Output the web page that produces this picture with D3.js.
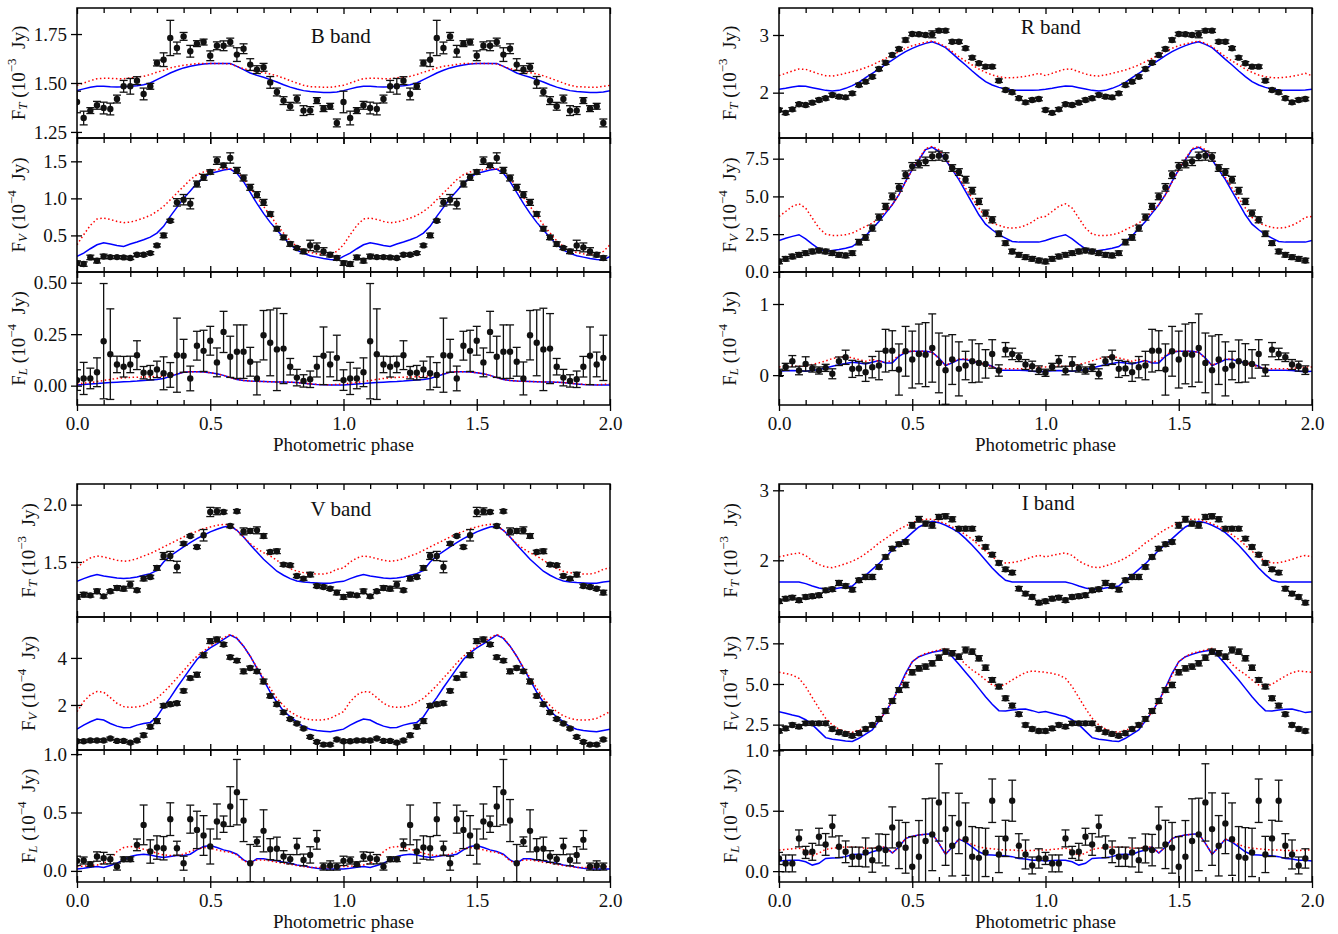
<!DOCTYPE html>
<html>
<head>
<meta charset="utf-8">
<script src="https://cdn.jsdelivr.net/npm/d3@7"></script>
<style>
  body { margin: 0; background: white; }
  svg text { font-family: "Liberation Serif", "Times New Roman", serif; fill: #111; }
</style>
</head>
<body>
<div id="chart"></div>
<script>
// phase grid of one cycle, the plot shows it twice (0-1 and 1-2)
const PHASES = [0, 0.025, 0.05, 0.075, 0.1, 0.125, 0.15, 0.175, 0.2, 0.225, 0.25, 0.275, 0.3, 0.325, 0.35, 0.375, 0.4, 0.425, 0.45, 0.475,
  0.5, 0.525, 0.55, 0.575, 0.6, 0.625, 0.65, 0.675, 0.7, 0.725, 0.75, 0.775, 0.8, 0.825, 0.85, 0.875, 0.9, 0.925, 0.95, 0.975];
const CYCLES = [0, 1];
const MAJOR_TICKS = [0, 0.5, 1, 1.5, 2];
const MINOR_TICKS = [0.1, 0.2, 0.3, 0.4, 0.6, 0.7, 0.8, 0.9, 1.1, 1.2, 1.3, 1.4, 1.6, 1.7, 1.8, 1.9];

// ---- B band
const B_FT = [1.403,1.321,1.359,1.386,1.372,1.367,1.418,1.483,1.483,1.512,1.444,1.483,1.602,1.619,1.730,1.679,1.738,1.662,1.701,1.709,
  1.639,1.690,1.690,1.709,1.645,1.675,1.594,1.568,1.580,1.503,1.454,1.410,1.381,1.418,1.359,1.359,1.410,1.369,1.381,1.296];
const B_FT_ERR = [0.055,0.035,0.015,0.02,0.03,0.03,0.02,0.03,0.04,0.02,0.03,0.015,0.015,0.035,0.09,0.03,0.02,0.03,0.015,0.015,
  0.025,0.02,0.025,0.02,0.035,0.025,0.03,0.02,0.02,0.03,0.02,0.02,0.02,0.02,0.025,0.02,0.015,0.015,0.015,0.02];
const B_FT_BLUE = [1.461,1.470,1.478,1.483,1.483,1.481,1.480,1.481,1.483,1.486,1.491,1.500,1.517,1.534,1.551,1.565,1.577,1.585,1.592,1.597,
  1.600,1.600,1.600,1.600,1.585,1.568,1.551,1.539,1.529,1.517,1.505,1.491,1.479,1.469,1.461,1.456,1.454,1.452,1.452,1.454];
const B_FT_RED = [1.488,1.500,1.512,1.522,1.524,1.524,1.522,1.522,1.526,1.531,1.534,1.543,1.555,1.565,1.577,1.585,1.590,1.595,1.599,1.600,
  1.600,1.599,1.599,1.597,1.585,1.573,1.565,1.560,1.553,1.546,1.537,1.525,1.512,1.500,1.488,1.481,1.480,1.478,1.478,1.483];

const B_FV = [0.126,0.113,0.203,0.158,0.216,0.207,0.207,0.203,0.194,0.239,0.239,0.261,0.365,0.5,0.698,0.946,0.982,0.928,1.194,1.284,
  1.356,1.509,1.446,1.545,1.378,1.275,1.149,1.05,0.946,0.788,0.59,0.473,0.383,0.329,0.284,0.365,0.338,0.284,0.239,0.194];
const B_FV_ERR = [0.03,0.03,0.03,0.03,0.03,0.02,0.02,0.02,0.02,0.02,0.02,0.02,0.02,0.03,0.02,0.05,0.07,0.07,0.04,0.04,
  0.03,0.05,0.03,0.07,0.04,0.04,0.04,0.04,0.04,0.03,0.03,0.03,0.03,0.02,0.03,0.07,0.06,0.05,0.03,0.03];
const B_FV_BLUE = [0.216,0.261,0.32,0.374,0.401,0.383,0.365,0.351,0.383,0.41,0.441,0.477,0.531,0.622,0.757,0.878,1.0,1.099,1.203,1.279,
  1.338,1.36,1.383,1.396,1.338,1.225,1.081,0.932,0.797,0.676,0.572,0.473,0.378,0.302,0.257,0.225,0.207,0.189,0.176,0.167];
const B_FV_RED = [0.374,0.509,0.635,0.721,0.734,0.716,0.689,0.671,0.68,0.703,0.734,0.77,0.824,0.892,0.982,1.072,1.162,1.252,1.32,1.356,
  1.378,1.387,1.401,1.401,1.365,1.275,1.14,1.014,0.892,0.77,0.644,0.532,0.428,0.351,0.297,0.27,0.252,0.243,0.248,0.284];

const B_FL = [0.027,0.035,0.035,0.065,0.216,0.153,0.103,0.092,0.103,0.148,0.063,0.063,0.079,0.06,0.052,0.148,0.145,0.035,0.194,0.169,
  0.218,0.113,0.261,0.14,0.165,0.165,0.116,0.035,0.245,0.208,0.176,0.18,0.092,0.039,0.023,0.031,0.092,0.145,0.103,0.135];
const B_FL_ERR = [0.05,0.078,0.05,0.07,0.28,0.22,0.04,0.05,0.04,0.07,0.03,0.035,0.04,0.08,0.06,0.18,0.08,0.06,0.07,0.1,
  0.07,0.07,0.1,0.1,0.13,0.13,0.07,0.08,0.12,0.16,0.2,0.17,0.04,0.04,0.03,0.04,0.05,0.14,0.06,0.11];
const B_FL_BLUE = [0.003,0.005,0.008,0.01,0.013,0.015,0.017,0.019,0.02,0.022,0.025,0.028,0.03,0.035,0.045,0.055,0.065,0.068,0.068,0.066,
  0.063,0.058,0.05,0.04,0.03,0.025,0.022,0.021,0.02,0.019,0.018,0.018,0.017,0.015,0.012,0.008,0.005,0.004,0.003,0.003];
const B_FL_RED = [0.008,0.012,0.015,0.02,0.025,0.03,0.035,0.038,0.04,0.041,0.042,0.043,0.045,0.047,0.05,0.058,0.066,0.068,0.068,0.066,
  0.063,0.058,0.05,0.04,0.03,0.025,0.022,0.021,0.02,0.019,0.018,0.018,0.017,0.015,0.012,0.009,0.006,0.005,0.004,0.006];

// ---- R band
const R_FT = [1.70,1.65,1.711,1.798,1.786,1.827,1.873,1.902,1.96,1.931,1.919,1.988,2.133,2.191,2.277,2.41,2.52,2.653,2.757,2.913,
  3.017,3.012,3.0,3.012,3.075,3.075,2.884,2.884,2.769,2.607,2.509,2.451,2.451,2.208,2.046,2.006,1.902,1.832,1.873,1.89];
const R_FT_ERR = [0.03,0.03,0.03,0.03,0.03,0.03,0.03,0.03,0.03,0.03,0.03,0.03,0.03,0.03,0.03,0.03,0.03,0.03,0.03,0.035,
  0.03,0.03,0.03,0.06,0.03,0.03,0.03,0.03,0.03,0.03,0.03,0.03,0.03,0.03,0.03,0.03,0.03,0.03,0.03,0.03];
const R_FT_BLUE = [2.058,2.075,2.098,2.116,2.11,2.087,2.064,2.04,2.029,2.04,2.075,2.121,2.179,2.26,2.335,2.41,2.491,2.566,2.642,2.711,
  2.769,2.815,2.855,2.884,2.838,2.78,2.682,2.578,2.48,2.376,2.277,2.191,2.133,2.092,2.064,2.046,2.04,2.04,2.04,2.046];
const R_FT_RED = [2.295,2.335,2.376,2.41,2.405,2.364,2.324,2.295,2.289,2.306,2.335,2.364,2.393,2.434,2.48,2.538,2.595,2.653,2.711,2.769,
  2.815,2.844,2.873,2.896,2.855,2.798,2.711,2.624,2.549,2.48,2.41,2.353,2.306,2.277,2.26,2.26,2.266,2.283,2.306,2.335];

const R_FV = [0.686,0.863,1.018,1.128,1.239,1.35,1.416,1.35,1.239,1.128,1.084,1.239,1.969,2.279,2.898,3.628,4.336,5.0,5.597,6.438,
  6.991,7.146,7.323,7.655,7.7,7.611,6.88,6.615,6.106,5.376,4.668,3.894,3.451,2.522,1.903,1.35,1.128,0.973,0.863,0.752];
const R_FV_ERR = [0.15,0.15,0.15,0.15,0.15,0.15,0.15,0.15,0.15,0.15,0.15,0.15,0.18,0.18,0.2,0.2,0.2,0.22,0.25,0.25,
  0.25,0.25,0.28,0.28,0.3,0.28,0.22,0.22,0.22,0.22,0.2,0.2,0.2,0.18,0.15,0.15,0.15,0.15,0.15,0.15];
const R_FV_BLUE = [2.08,2.23,2.35,2.46,2.19,1.84,1.53,1.35,1.42,1.48,1.57,1.68,2.01,2.39,2.85,3.34,3.89,4.45,5.11,6.0,
  6.77,7.43,8.1,8.25,7.99,7.43,6.77,6.11,5.33,4.56,3.78,3.16,2.79,2.46,2.23,2.01,1.97,1.97,1.97,1.97];
const R_FV_RED = [3.67,4.0,4.34,4.51,4.23,3.56,2.9,2.5,2.41,2.41,2.46,2.57,2.79,3.01,3.23,3.56,4.0,4.45,5.11,5.95,
  6.77,7.5,8.16,8.32,8.1,7.54,6.88,6.26,5.55,4.89,4.23,3.61,3.23,3.08,2.94,2.9,2.94,3.08,3.3,3.61];

const R_FL = [0.033,0.116,0.195,0.065,0.158,0.093,0.065,0.102,0.019,0.195,0.251,0.088,0.093,0.042,0.112,0.135,0.344,0.344,0.079,0.335,
  0.219,0.298,0.288,0.381,0.172,0.07,0.219,0.088,0.135,0.195,0.172,0.158,0.298,0.065,0.358,0.298,0.251,0.149,0.126,0.07];
const R_FL_ERR = [0.05,0.05,0.08,0.06,0.1,0.05,0.05,0.05,0.07,0.06,0.1,0.12,0.1,0.13,0.15,0.2,0.3,0.28,0.36,0.35,
  0.4,0.42,0.45,0.48,0.42,0.48,0.35,0.38,0.2,0.3,0.27,0.2,0.2,0.08,0.1,0.08,0.06,0.07,0.07,0.06];
const R_FL_BLUE = [0.056,0.06,0.065,0.06,0.056,0.065,0.079,0.1,0.126,0.145,0.163,0.181,0.172,0.158,0.181,0.205,0.172,0.172,0.265,0.321,
  0.335,0.335,0.335,0.321,0.242,0.135,0.172,0.219,0.219,0.195,0.172,0.158,0.126,0.07,0.07,0.07,0.07,0.065,0.056,0.047];
const R_FL_RED = [0.116,0.12,0.126,0.126,0.126,0.15,0.172,0.2,0.233,0.25,0.265,0.242,0.219,0.195,0.219,0.195,0.181,0.205,0.279,0.335,
  0.335,0.335,0.335,0.321,0.233,0.135,0.186,0.228,0.228,0.205,0.172,0.149,0.112,0.093,0.088,0.088,0.088,0.093,0.102,0.112];

// ---- V band
const V_FT = [1.195,1.215,1.209,1.244,1.2,1.244,1.273,1.267,1.302,1.253,1.355,1.369,1.448,1.552,1.552,1.456,1.66,1.727,1.631,1.733,
  1.936,1.942,1.936,1.814,1.942,1.767,1.77,1.776,1.727,1.587,1.593,1.477,1.471,1.378,1.355,1.39,1.291,1.282,1.267,1.233];
const V_FT_ERR = [0.02,0.02,0.015,0.02,0.015,0.015,0.02,0.02,0.03,0.015,0.02,0.015,0.02,0.03,0.04,0.05,0.015,0.01,0.015,0.05,
  0.04,0.03,0.015,0.015,0.015,0.03,0.02,0.03,0.02,0.015,0.02,0.015,0.015,0.015,0.015,0.02,0.015,0.015,0.015,0.02];
const V_FT_BLUE = [1.331,1.355,1.375,1.39,1.378,1.369,1.36,1.355,1.36,1.369,1.384,1.398,1.427,1.5,1.552,1.593,1.631,1.669,1.703,1.733,
  1.762,1.785,1.805,1.814,1.776,1.718,1.651,1.587,1.523,1.471,1.419,1.384,1.355,1.334,1.326,1.32,1.317,1.314,1.314,1.326];
const V_FT_RED = [1.448,1.5,1.535,1.552,1.544,1.529,1.515,1.506,1.512,1.529,1.552,1.573,1.602,1.631,1.66,1.689,1.718,1.747,1.767,1.791,
  1.805,1.820,1.828,1.820,1.776,1.718,1.66,1.616,1.581,1.552,1.515,1.477,1.442,1.419,1.407,1.398,1.395,1.395,1.407,1.436];

const V_FV = [0.457,0.457,0.486,0.486,0.486,0.571,0.471,0.471,0.4,0.486,0.714,1.071,1.314,1.971,2.029,2.071,2.6,3.143,3.286,4.114,
  4.714,4.786,4.571,4.029,3.886,3.429,3.571,3.429,3.0,2.386,2.029,1.686,1.4,1.214,1.0,0.643,0.429,0.314,0.314,0.529];
const V_FV_ERR = [0.06,0.06,0.06,0.06,0.06,0.06,0.06,0.06,0.06,0.06,0.08,0.08,0.1,0.08,0.08,0.08,0.08,0.08,0.1,0.1,
  0.1,0.1,0.08,0.08,0.08,0.1,0.08,0.08,0.1,0.08,0.08,0.08,0.06,0.06,0.06,0.06,0.06,0.06,0.06,0.06];
const V_FV_BLUE = [0.971,1.143,1.286,1.4,1.357,1.214,1.1,1.029,1.043,1.143,1.214,1.257,1.5,1.929,2.314,2.743,3.143,3.543,3.929,4.214,
  4.429,4.6,4.786,4.971,4.829,4.5,4.071,3.571,3.071,2.543,2.114,1.743,1.5,1.286,1.071,0.971,0.914,0.886,0.857,0.914];
const V_FV_RED = [1.714,2.143,2.43,2.571,2.543,2.314,2.071,1.929,1.9,1.914,1.971,2.114,2.286,2.543,2.829,3.143,3.457,3.786,4.071,4.286,
  4.5,4.686,4.857,5.0,4.857,4.5,4.071,3.6,3.143,2.714,2.286,1.971,1.714,1.543,1.429,1.371,1.357,1.371,1.429,1.571];

const V_FL = [0.086,0.089,0.057,0.123,0.109,0.1,0.037,0.1,0.1,0.223,0.394,0.166,0.2,0.194,0.443,0.194,0.066,0.443,0.351,0.303,
  0.209,0.423,0.4,0.551,0.674,0.431,0.066,0.251,0.343,0.186,0.189,0.123,0.1,0.209,0.094,0.137,0.266,0.037,0.046,0.037];
const V_FL_ERR = [0.04,0.03,0.02,0.04,0.05,0.04,0.03,0.02,0.02,0.05,0.17,0.1,0.1,0.1,0.14,0.06,0.06,0.12,0.16,0.17,
  0.15,0.15,0.07,0.17,0.28,0.18,0.16,0.04,0.18,0.09,0.1,0.05,0.04,0.07,0.05,0.07,0.08,0.03,0.04,0.03];
const V_FL_BLUE = [0.017,0.023,0.031,0.037,0.029,0.046,0.066,0.094,0.123,0.137,0.143,0.137,0.123,0.114,0.123,0.131,0.131,0.143,0.18,0.209,
  0.217,0.2,0.18,0.166,0.143,0.094,0.066,0.103,0.103,0.094,0.086,0.074,0.066,0.051,0.043,0.031,0.023,0.017,0.017,0.017];
const V_FL_RED = [0.037,0.04,0.046,0.05,0.066,0.094,0.166,0.2,0.209,0.2,0.186,0.171,0.151,0.137,0.131,0.131,0.143,0.166,0.189,0.2,
  0.194,0.18,0.166,0.16,0.137,0.086,0.066,0.094,0.094,0.086,0.074,0.066,0.057,0.046,0.037,0.029,0.029,0.029,0.029,0.034];

// ---- I band
const I_FT = [1.414,1.452,1.467,1.429,1.476,1.486,1.5,1.571,1.586,1.676,1.633,1.581,1.714,1.762,1.762,1.905,2.048,2.167,2.229,2.262,
  2.5,2.586,2.524,2.5,2.619,2.629,2.586,2.452,2.452,2.452,2.31,2.19,2.081,1.962,1.871,1.824,1.595,1.524,1.476,1.395];
const I_FT_ERR = [0.03,0.03,0.03,0.03,0.03,0.03,0.03,0.03,0.03,0.035,0.03,0.03,0.03,0.035,0.035,0.03,0.03,0.03,0.03,0.03,
  0.04,0.04,0.035,0.04,0.035,0.035,0.035,0.03,0.03,0.03,0.03,0.03,0.03,0.03,0.03,0.03,0.03,0.03,0.03,0.03];
const I_FT_BLUE = [1.69,1.69,1.69,1.69,1.667,1.633,1.605,1.586,1.586,1.605,1.619,1.633,1.714,1.786,1.871,1.952,2.048,2.143,2.224,2.31,
  2.395,2.476,2.524,2.557,2.538,2.5,2.452,2.395,2.31,2.214,2.11,2.0,1.89,1.795,1.714,1.69,1.69,1.69,1.69,1.69];
const I_FT_RED = [2.05,2.07,2.09,2.105,2.07,1.99,1.94,1.905,1.895,1.92,1.952,1.986,2.033,2.095,2.167,2.248,2.31,2.381,2.443,2.49,
  2.538,2.571,2.586,2.586,2.557,2.524,2.476,2.429,2.367,2.3,2.214,2.129,2.048,1.986,1.962,1.967,1.986,2.014,2.048,2.07];

const I_FV = [2.11,2.27,2.48,2.38,2.58,2.58,2.58,2.58,2.23,2.03,1.93,1.82,1.97,2.23,2.48,2.85,3.34,3.95,4.63,4.94,
  5.72,5.96,6.07,6.27,6.62,6.99,6.89,6.68,7.09,6.99,6.58,6.0,5.25,4.84,4.12,3.67,3.14,2.48,2.23,2.11];
const I_FV_ERR = [0.12,0.12,0.12,0.12,0.12,0.12,0.12,0.12,0.12,0.12,0.12,0.12,0.12,0.12,0.12,0.14,0.14,0.14,0.14,0.16,
  0.16,0.16,0.16,0.16,0.16,0.16,0.16,0.16,0.18,0.16,0.16,0.16,0.14,0.14,0.14,0.14,0.12,0.12,0.12,0.12];
const I_FV_BLUE = [3.3,3.2,3.09,3.0,2.8,2.5,2.1,1.7,1.6,1.55,1.5,1.46,1.66,1.91,2.17,2.73,3.3,3.95,4.77,5.66,
  6.37,6.68,6.82,6.95,7.03,7.09,6.68,6.21,5.72,5.25,4.73,4.22,3.75,3.36,3.34,3.4,3.44,3.46,3.36,3.24];
const I_FV_RED = [5.72,5.65,5.55,5.35,4.84,4.16,3.5,2.89,2.48,2.23,2.07,2.03,2.17,2.27,2.38,2.73,3.3,3.95,4.69,5.55,
  6.37,6.68,6.89,6.99,7.09,7.19,6.99,6.62,6.21,5.86,5.59,5.25,4.94,4.84,4.98,5.25,5.49,5.7,5.8,5.76];

const I_FL = [0.105,0.064,0.064,0.271,0.155,0.16,0.285,0.221,0.373,0.202,0.16,0.119,0.119,0.155,0.091,0.188,0.174,0.362,0.221,0.193,
  0.036,0.119,0.249,0.304,0.569,0.348,0.21,0.395,0.265,0.119,0.11,0.155,0.583,0.138,0.271,0.583,0.21,0.138,0.047,0.105];
const I_FL_ERR = [0.05,0.07,0.07,0.07,0.05,0.07,0.07,0.09,0.09,0.09,0.09,0.08,0.08,0.12,0.1,0.12,0.13,0.17,0.2,0.21,
  0.25,0.3,0.35,0.3,0.32,0.3,0.25,0.25,0.3,0.25,0.25,0.2,0.18,0.15,0.15,0.17,0.1,0.12,0.07,0.08];
const I_FL_BLUE = [0.083,0.088,0.091,0.09,0.077,0.05,0.065,0.105,0.108,0.11,0.12,0.138,0.14,0.138,0.16,0.175,0.2,0.15,0.2,0.27,
  0.29,0.3,0.305,0.31,0.23,0.14,0.2,0.265,0.24,0.2,0.16,0.135,0.133,0.13,0.127,0.12,0.105,0.1,0.091,0.09];
const I_FL_RED = [0.174,0.18,0.185,0.19,0.17,0.125,0.15,0.18,0.19,0.195,0.2,0.2,0.195,0.19,0.19,0.2,0.2,0.15,0.2,0.27,
  0.29,0.3,0.305,0.31,0.23,0.14,0.2,0.265,0.25,0.22,0.2,0.19,0.185,0.18,0.175,0.175,0.17,0.17,0.17,0.175];

// layout of the four panels (pixel frames) and their three rows
var TOP_ROWS = [8, 138, 272, 405];
var BOTTOM_ROWS = [484, 617, 750, 882];

var panels = [
  {title: "B band", titleX: 0.99, titleY: 1.74, x0: 77, x1: 610, rowsY: TOP_ROWS, ylabelX: 18, rows: [
    {obs: B_FT, err: B_FT_ERR, blue: B_FT_BLUE, red: B_FT_RED, domain: [1.219, 1.883], ticks: [1.25, 1.5, 1.75], fmt: ".2f", sub: "T", exp: "\u22123"},
    {obs: B_FV, err: B_FV_ERR, blue: B_FV_BLUE, red: B_FV_RED, domain: [0.006, 1.815], ticks: [0.5, 1.0, 1.5], fmt: ".1f", sub: "V", exp: "\u22124"},
    {obs: B_FL, err: B_FL_ERR, blue: B_FL_BLUE, red: B_FL_RED, domain: [-0.094, 0.552], ticks: [0, 0.25, 0.5], fmt: ".2f", sub: "L", exp: "\u22124"}]},
  {title: "R band", titleX: 1.02, titleY: 3.14, x0: 779, x1: 1312, rowsY: TOP_ROWS, ylabelX: 729, rows: [
    {obs: R_FT, err: R_FT_ERR, blue: R_FT_BLUE, red: R_FT_RED, domain: [1.214, 3.468], ticks: [2, 3], fmt: "d", sub: "T", exp: "\u22123"},
    {obs: R_FV, err: R_FV_ERR, blue: R_FV_BLUE, red: R_FV_RED, domain: [-0.01, 8.87], ticks: [0, 2.5, 5, 7.5], fmt: ".1f", sub: "V", exp: "\u22124"},
    {obs: R_FL, err: R_FL_ERR, blue: R_FL_BLUE, red: R_FL_RED, domain: [-0.42, 1.45], ticks: [0, 1], fmt: "d", sub: "L", exp: "\u22124"}]},
  {title: "V band", titleX: 0.99, titleY: 1.96, x0: 77, x1: 610, rowsY: BOTTOM_ROWS, ylabelX: 28, rows: [
    {obs: V_FT, err: V_FT_ERR, blue: V_FT_BLUE, red: V_FT_RED, domain: [1.02, 2.18], ticks: [1.5, 2.0], fmt: ".1f", sub: "T", exp: "\u22123"},
    {obs: V_FV, err: V_FV_ERR, blue: V_FV_BLUE, red: V_FV_RED, domain: [0.085, 5.74], ticks: [2, 4], fmt: "d", sub: "V", exp: "\u22124"},
    {obs: V_FL, err: V_FL_ERR, blue: V_FL_BLUE, red: V_FL_RED, domain: [-0.095, 1.035], ticks: [0, 0.5, 1.0], fmt: ".1f", sub: "L", exp: "\u22124"}]},
  {title: "I band", titleX: 1.01, titleY: 2.82, x0: 779, x1: 1312, rowsY: BOTTOM_ROWS, ylabelX: 730, rows: [
    {obs: I_FT, err: I_FT_ERR, blue: I_FT_BLUE, red: I_FT_RED, domain: [1.19, 3.09], ticks: [2, 3], fmt: "d", sub: "T", exp: "\u22123"},
    {obs: I_FV, err: I_FV_ERR, blue: I_FV_BLUE, red: I_FV_RED, domain: [0.94, 9.12], ticks: [2.5, 5.0, 7.5], fmt: ".1f", sub: "V", exp: "\u22124"},
    {obs: I_FL, err: I_FL_ERR, blue: I_FL_BLUE, red: I_FL_RED, domain: [-0.09, 1.003], ticks: [0, 0.5, 1.0], fmt: ".1f", sub: "L", exp: "\u22124"}]}
];

var svg = d3.select("#chart")
  .append("svg")
  .attr("width", 1338)
  .attr("height", 934)
  .style("background-color", "white");

var clipCount = 0;

// repeat one cycle over phases 0-2
function unfold(values, errors)
{
  var out = [];
  CYCLES.forEach(function(c) {
    PHASES.forEach(function(p, i) {
      out.push({phase: p + c, value: values[i], err: errors ? errors[i] : 0});
    });
  });
  return out;
}

function unfoldLine(values)
{
  var out = unfold(values);
  out.push({phase: 2, value: values[0], err: 0});
  return out;
}

function styleTicks(g, size)
{
  g.attr("font-family", null).attr("font-size", null);
  g.selectAll(".tick line").attr("stroke", "#000").attr("stroke-width", 1.3);
  g.selectAll(".tick text").style("font-size", size + "px").style("fill", "#111");
}

function drawRow(panel, row, r)
{
  var top = panel.rowsY[r];
  var bottom = panel.rowsY[r + 1];
  var isLast = (r == panel.rows.length - 1);

  var x = d3.scaleLinear().domain([0, 2]).range([panel.x0, panel.x1]);
  var y = d3.scaleLinear().domain(row.domain).range([bottom, top]);

  var g = svg.append("g");

  var clipId = "clip-" + (clipCount++);
  g.append("clipPath")
    .attr("id", clipId)
    .append("rect")
    .attr("x", panel.x0)
    .attr("y", top)
    .attr("width", panel.x1 - panel.x0)
    .attr("height", bottom - top);

  var plot = g.append("g").attr("clip-path", "url(#" + clipId + ")");

  var line = d3.line()
    .x(function(d) { return x(d.phase); })
    .y(function(d) { return y(d.value); });

  plot.append("path")
    .datum(unfoldLine(row.blue))
    .attr("d", line)
    .attr("fill", "none")
    .attr("stroke", "#0000ff")
    .attr("stroke-width", 1.5);

  plot.append("path")
    .datum(unfoldLine(row.red))
    .attr("d", line)
    .attr("fill", "none")
    .attr("stroke", "#ff0000")
    .attr("stroke-width", 1.5)
    .attr("stroke-dasharray", "1.5,2.5");

  var pts = unfold(row.obs, row.err);

  var bars = plot.append("g").selectAll("g")
    .data(pts)
    .enter()
    .append("g")
    .attr("stroke", "#111")
    .attr("stroke-width", 1.3);

  bars.append("line")
    .attr("x1", function(d) { return x(d.phase); })
    .attr("x2", function(d) { return x(d.phase); })
    .attr("y1", function(d) { return y(d.value - d.err); })
    .attr("y2", function(d) { return y(d.value + d.err); });

  bars.append("line")
    .attr("x1", function(d) { return x(d.phase) - 4; })
    .attr("x2", function(d) { return x(d.phase) + 4; })
    .attr("y1", function(d) { return y(d.value + d.err); })
    .attr("y2", function(d) { return y(d.value + d.err); });

  bars.append("line")
    .attr("x1", function(d) { return x(d.phase) - 4; })
    .attr("x2", function(d) { return x(d.phase) + 4; })
    .attr("y1", function(d) { return y(d.value - d.err); })
    .attr("y2", function(d) { return y(d.value - d.err); });

  plot.append("g").selectAll("circle")
    .data(pts)
    .enter()
    .append("circle")
    .attr("cx", function(d) { return x(d.phase); })
    .attr("cy", function(d) { return y(d.value); })
    .attr("r", 3.2)
    .attr("fill", "#111");

  // y axis, major ticks cross the frame
  var yAxis = d3.axisLeft(y)
    .tickValues(row.ticks)
    .tickFormat(d3.format(row.fmt))
    .tickSizeInner(6)
    .tickSizeOuter(0)
    .tickPadding(4);

  var gy = g.append("g")
    .attr("transform", "translate(" + panel.x0 + ",0)")
    .call(yAxis);
  gy.select(".domain").remove();
  gy.selectAll(".tick line").attr("x1", 5);
  styleTicks(gy, 19);

  // x axes at bottom and top of every row
  var xBottom = d3.axisBottom(x)
    .tickValues(MAJOR_TICKS)
    .tickFormat(isLast ? d3.format(".1f") : "")
    .tickSizeInner(6)
    .tickSizeOuter(0)
    .tickPadding(6);

  var gxb = g.append("g")
    .attr("transform", "translate(0," + bottom + ")")
    .call(xBottom);
  gxb.select(".domain").remove();
  gxb.selectAll(".tick line").attr("y1", -6);
  styleTicks(gxb, 19);

  var gxm = g.append("g")
    .attr("transform", "translate(0," + bottom + ")")
    .call(d3.axisBottom(x).tickValues(MINOR_TICKS).tickFormat("").tickSizeInner(-5).tickSizeOuter(0));
  gxm.select(".domain").remove();
  styleTicks(gxm, 19);

  var gxt = g.append("g")
    .attr("transform", "translate(0," + top + ")")
    .call(d3.axisTop(x).tickValues(MAJOR_TICKS).tickFormat("").tickSizeInner(-6).tickSizeOuter(0));
  gxt.select(".domain").remove();
  styleTicks(gxt, 19);

  var gxtm = g.append("g")
    .attr("transform", "translate(0," + top + ")")
    .call(d3.axisTop(x).tickValues(MINOR_TICKS).tickFormat("").tickSizeInner(-5).tickSizeOuter(0));
  gxtm.select(".domain").remove();
  styleTicks(gxtm, 19);

  // frame
  g.append("rect")
    .attr("x", panel.x0)
    .attr("y", top)
    .attr("width", panel.x1 - panel.x0)
    .attr("height", bottom - top)
    .attr("fill", "none")
    .attr("stroke", "#000")
    .attr("stroke-width", 1.5);

  // y label: F_X (10^-n Jy)
  var label = g.append("text")
    .attr("transform", "translate(" + panel.ylabelX + "," + ((top + bottom) / 2) + ") rotate(-90)")
    .attr("text-anchor", "middle")
    .attr("dominant-baseline", "central")
    .style("font-size", "19px");
  label.append("tspan").text("F");
  label.append("tspan").text(row.sub).attr("dy", 4).style("font-size", "13px").style("font-style", "italic");
  label.append("tspan").text("\u00a0(10").attr("dy", -4);
  label.append("tspan").text(row.exp).attr("dy", -7).style("font-size", "13px");
  label.append("tspan").text("\u00a0\u00a0Jy)").attr("dy", 7);

  if (r == 0) {
    g.append("text")
      .text(panel.title)
      .attr("x", x(panel.titleX))
      .attr("y", y(panel.titleY))
      .attr("text-anchor", "middle")
      .attr("dominant-baseline", "central")
      .style("font-size", "21px");
  }

  if (isLast) {
    g.append("text")
      .text("Photometric phase")
      .attr("x", (panel.x0 + panel.x1) / 2)
      .attr("y", bottom + 46)
      .attr("text-anchor", "middle")
      .style("font-size", "19px");
  }
}

panels.forEach(function(panel) {
  panel.rows.forEach(function(row, r) {
    drawRow(panel, row, r);
  });
});
</script>
</body>
</html>
